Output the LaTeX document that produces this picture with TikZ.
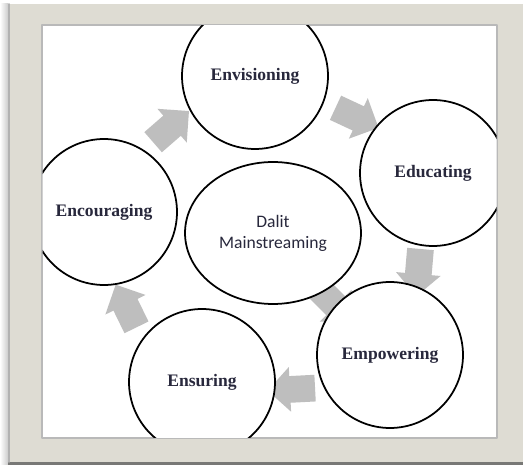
\documentclass[tikz,border=0pt]{standalone}
\usepackage{fontspec}
\setmainfont{Liberation Serif}
\newfontfamily\calibri{Carlito}
\usetikzlibrary{shapes.geometric,shapes.arrows}
\definecolor{framebeige}{RGB}{222,220,211}
\definecolor{framedark}{RGB}{120,120,118}
\definecolor{arrowgray}{RGB}{190,190,190}
\definecolor{textnavy}{RGB}{40,40,60}
\tikzset{
  stage/.style={circle,draw=black,line width=1pt,fill=white,minimum size=2.92cm,inner sep=0pt,
    font=\fontsize{10}{12}\selectfont\bfseries,text=textnavy},
  centre/.style={ellipse,draw=black,line width=1pt,fill=white,minimum width=3.52cm,minimum height=2.84cm,
    inner sep=0pt,align=center,font=\calibri\fontsize{10}{12}\selectfont,text=textnavy},
  blockarrow/.style={single arrow,fill=arrowgray,draw=none,minimum height=0.95cm,
    inner xsep=0pt,inner ysep=0.26cm,single arrow head extend=0.18cm}
}
\begin{document}
\begin{tikzpicture}[x=0.02cm,y=-0.02cm,line join=round,line cap=round]
			\useasboundingbox (0,0) rectangle (523,465);
			% frame
			\fill[white] (0,0) rectangle (523,465);
			\fill[left color=white,right color=gray!40] (0,4) rectangle (8,465);
			\fill[framebeige] (8,4) rectangle (523,462);
			\fill[framedark] (8,462) rectangle (523,465);
			\draw[gray!60,line width=1pt] (9,4)--(9,462);
			\draw[fill=white,draw=gray!55,line width=0.6pt] (42,25) rectangle (497,438);
			
			\begin{scope}
			\clip (42.5,25.5) rectangle (496.5,437.5);
			% arrows
			\node[blockarrow,rotate=41] (a1) at (166,131) {};
			\node[blockarrow,rotate=-25] (a2) at (351,115) {};
			\node[blockarrow,rotate=-95] (a3) at (419,266) {};
			\node[blockarrow,rotate=183] (a4) at (298,389) {};
			\node[blockarrow,rotate=116] (a5) at (129,312) {};
			\node[blockarrow,rotate=-45] (a6) at (330,300) {};
			
			% stages
			\node[stage] (env) at (255,76) {Envisioning};
			\node[stage] (edu) at (433,173) {Educating};
			\node[stage] (emp) at (390,355) {Empowering};
			\node[stage] (ens) at (202,382) {Ensuring};
			\node[stage] (enc) at (104,212) {Encouraging};
			\node[centre] (dalit) at (273,233) {Dalit\\Mainstreaming};
			\end{scope}
		\end{tikzpicture}
\end{document}
